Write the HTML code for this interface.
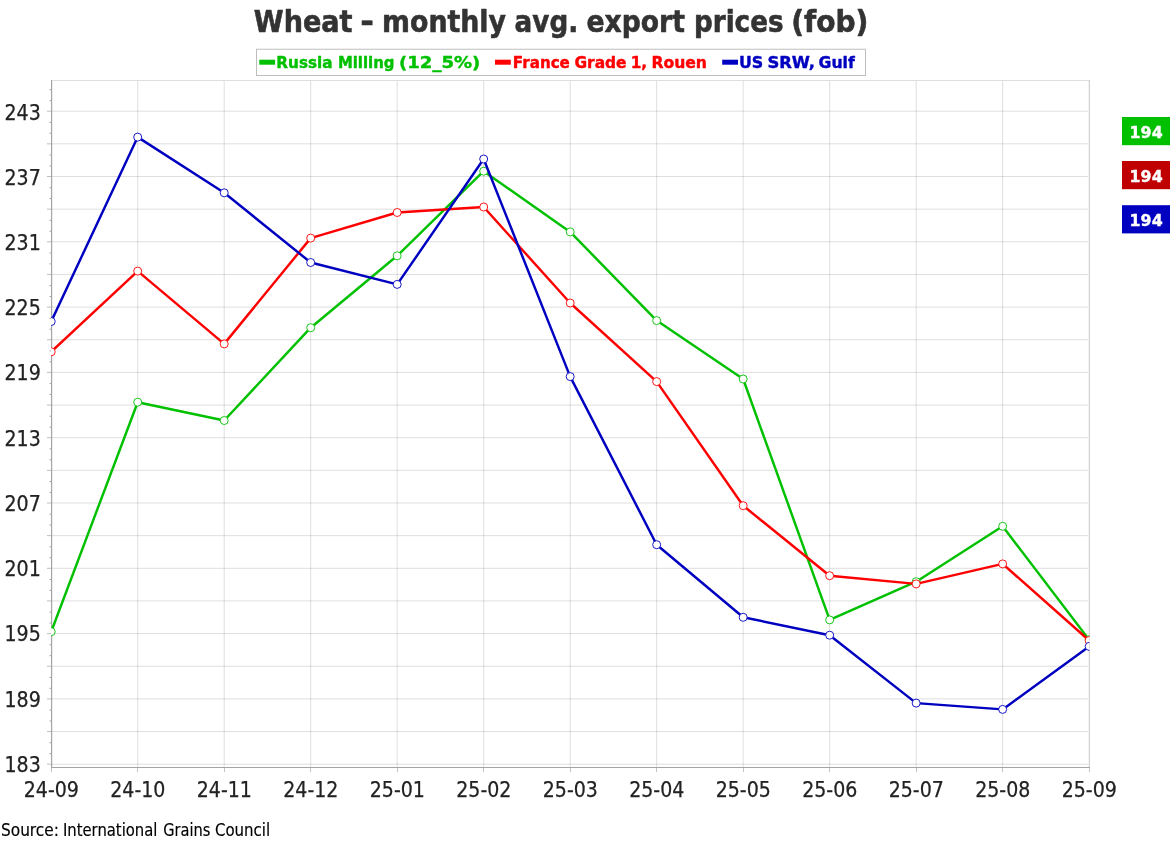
<!DOCTYPE html>
<html lang="en"><head><meta charset="utf-8"><title>Wheat - monthly avg. export prices (fob)</title>
<style>
html,body{margin:0;padding:0;background:#fff;}
body{width:1175px;height:845px;overflow:hidden;position:relative;}
svg{position:absolute;left:0;top:0;display:block;}
</style></head><body>
<svg width="1175" height="845" viewBox="0 0 1175 845">
<rect x="0" y="0" width="1175" height="845" fill="#fff"/>

<g stroke="#000" stroke-opacity="0.13" stroke-width="1"><line x1="51.50" y1="764.20" x2="1089.50" y2="764.20"/><line x1="51.50" y1="731.55" x2="1089.50" y2="731.55"/><line x1="51.50" y1="698.90" x2="1089.50" y2="698.90"/><line x1="51.50" y1="666.25" x2="1089.50" y2="666.25"/><line x1="51.50" y1="633.60" x2="1089.50" y2="633.60"/><line x1="51.50" y1="600.95" x2="1089.50" y2="600.95"/><line x1="51.50" y1="568.30" x2="1089.50" y2="568.30"/><line x1="51.50" y1="535.65" x2="1089.50" y2="535.65"/><line x1="51.50" y1="503.00" x2="1089.50" y2="503.00"/><line x1="51.50" y1="470.35" x2="1089.50" y2="470.35"/><line x1="51.50" y1="437.70" x2="1089.50" y2="437.70"/><line x1="51.50" y1="405.05" x2="1089.50" y2="405.05"/><line x1="51.50" y1="372.40" x2="1089.50" y2="372.40"/><line x1="51.50" y1="339.75" x2="1089.50" y2="339.75"/><line x1="51.50" y1="307.10" x2="1089.50" y2="307.10"/><line x1="51.50" y1="274.45" x2="1089.50" y2="274.45"/><line x1="51.50" y1="241.80" x2="1089.50" y2="241.80"/><line x1="51.50" y1="209.15" x2="1089.50" y2="209.15"/><line x1="51.50" y1="176.50" x2="1089.50" y2="176.50"/><line x1="51.50" y1="143.85" x2="1089.50" y2="143.85"/><line x1="51.50" y1="111.20" x2="1089.50" y2="111.20"/><line x1="137.70" y1="80.50" x2="137.70" y2="767.50"/><line x1="224.19" y1="80.50" x2="224.19" y2="767.50"/><line x1="310.69" y1="80.50" x2="310.69" y2="767.50"/><line x1="397.18" y1="80.50" x2="397.18" y2="767.50"/><line x1="483.68" y1="80.50" x2="483.68" y2="767.50"/><line x1="570.18" y1="80.50" x2="570.18" y2="767.50"/><line x1="656.67" y1="80.50" x2="656.67" y2="767.50"/><line x1="743.17" y1="80.50" x2="743.17" y2="767.50"/><line x1="829.66" y1="80.50" x2="829.66" y2="767.50"/><line x1="916.16" y1="80.50" x2="916.16" y2="767.50"/><line x1="1002.65" y1="80.50" x2="1002.65" y2="767.50"/></g>
<line x1="52.5" y1="80.5" x2="52.5" y2="767.5" stroke="#000" stroke-opacity="0.07" shape-rendering="crispEdges"/>
<g stroke-width="1" fill="none" shape-rendering="crispEdges"><line x1="51.5" y1="80.5" x2="1090.0" y2="80.5" stroke="#dedede"/><line x1="1089.5" y1="80.0" x2="1089.5" y2="767.5" stroke="#d2d2d2"/><line x1="1088.5" y1="81.0" x2="1088.5" y2="767.0" stroke="#f2f2f2"/></g>
<g stroke="#000" stroke-opacity="0.26" stroke-width="1"><line x1="47.0" y1="764.20" x2="51.0" y2="764.20"/><line x1="47.0" y1="731.55" x2="51.0" y2="731.55"/><line x1="47.0" y1="698.90" x2="51.0" y2="698.90"/><line x1="47.0" y1="666.25" x2="51.0" y2="666.25"/><line x1="47.0" y1="633.60" x2="51.0" y2="633.60"/><line x1="47.0" y1="600.95" x2="51.0" y2="600.95"/><line x1="47.0" y1="568.30" x2="51.0" y2="568.30"/><line x1="47.0" y1="535.65" x2="51.0" y2="535.65"/><line x1="47.0" y1="503.00" x2="51.0" y2="503.00"/><line x1="47.0" y1="470.35" x2="51.0" y2="470.35"/><line x1="47.0" y1="437.70" x2="51.0" y2="437.70"/><line x1="47.0" y1="405.05" x2="51.0" y2="405.05"/><line x1="47.0" y1="372.40" x2="51.0" y2="372.40"/><line x1="47.0" y1="339.75" x2="51.0" y2="339.75"/><line x1="47.0" y1="307.10" x2="51.0" y2="307.10"/><line x1="47.0" y1="274.45" x2="51.0" y2="274.45"/><line x1="47.0" y1="241.80" x2="51.0" y2="241.80"/><line x1="47.0" y1="209.15" x2="51.0" y2="209.15"/><line x1="47.0" y1="176.50" x2="51.0" y2="176.50"/><line x1="47.0" y1="143.85" x2="51.0" y2="143.85"/><line x1="47.0" y1="111.20" x2="51.0" y2="111.20"/></g>
<g stroke="#000" stroke-opacity="0.36" stroke-width="1"><line x1="49.5" y1="753.62" x2="51.0" y2="753.62"/><line x1="49.5" y1="742.73" x2="51.0" y2="742.73"/><line x1="49.5" y1="720.97" x2="51.0" y2="720.97"/><line x1="49.5" y1="710.08" x2="51.0" y2="710.08"/><line x1="49.5" y1="688.32" x2="51.0" y2="688.32"/><line x1="49.5" y1="677.43" x2="51.0" y2="677.43"/><line x1="49.5" y1="655.67" x2="51.0" y2="655.67"/><line x1="49.5" y1="644.78" x2="51.0" y2="644.78"/><line x1="49.5" y1="623.02" x2="51.0" y2="623.02"/><line x1="49.5" y1="612.13" x2="51.0" y2="612.13"/><line x1="49.5" y1="590.37" x2="51.0" y2="590.37"/><line x1="49.5" y1="579.48" x2="51.0" y2="579.48"/><line x1="49.5" y1="557.72" x2="51.0" y2="557.72"/><line x1="49.5" y1="546.83" x2="51.0" y2="546.83"/><line x1="49.5" y1="525.07" x2="51.0" y2="525.07"/><line x1="49.5" y1="514.18" x2="51.0" y2="514.18"/><line x1="49.5" y1="492.42" x2="51.0" y2="492.42"/><line x1="49.5" y1="481.53" x2="51.0" y2="481.53"/><line x1="49.5" y1="459.77" x2="51.0" y2="459.77"/><line x1="49.5" y1="448.88" x2="51.0" y2="448.88"/><line x1="49.5" y1="427.12" x2="51.0" y2="427.12"/><line x1="49.5" y1="416.23" x2="51.0" y2="416.23"/><line x1="49.5" y1="394.47" x2="51.0" y2="394.47"/><line x1="49.5" y1="383.58" x2="51.0" y2="383.58"/><line x1="49.5" y1="361.82" x2="51.0" y2="361.82"/><line x1="49.5" y1="350.93" x2="51.0" y2="350.93"/><line x1="49.5" y1="329.17" x2="51.0" y2="329.17"/><line x1="49.5" y1="318.28" x2="51.0" y2="318.28"/><line x1="49.5" y1="296.52" x2="51.0" y2="296.52"/><line x1="49.5" y1="285.63" x2="51.0" y2="285.63"/><line x1="49.5" y1="263.87" x2="51.0" y2="263.87"/><line x1="49.5" y1="252.98" x2="51.0" y2="252.98"/><line x1="49.5" y1="231.22" x2="51.0" y2="231.22"/><line x1="49.5" y1="220.33" x2="51.0" y2="220.33"/><line x1="49.5" y1="198.57" x2="51.0" y2="198.57"/><line x1="49.5" y1="187.68" x2="51.0" y2="187.68"/><line x1="49.5" y1="165.92" x2="51.0" y2="165.92"/><line x1="49.5" y1="155.03" x2="51.0" y2="155.03"/><line x1="49.5" y1="133.27" x2="51.0" y2="133.27"/><line x1="49.5" y1="122.38" x2="51.0" y2="122.38"/><line x1="49.5" y1="100.62" x2="51.0" y2="100.62"/><line x1="49.5" y1="89.73" x2="51.0" y2="89.73"/></g>
<g stroke="#a4a4a4" stroke-width="1" shape-rendering="crispEdges"><line x1="51.5" y1="80.0" x2="51.5" y2="768.0"/><line x1="51.0" y1="767.5" x2="1090.0" y2="767.5"/></g>
<g stroke="#c4c4c4" stroke-width="1" shape-rendering="crispEdges"><line x1="51.5" y1="768.0" x2="51.5" y2="772.0"/><line x1="137.5" y1="768.0" x2="137.5" y2="772.0"/><line x1="224.5" y1="768.0" x2="224.5" y2="772.0"/><line x1="310.5" y1="768.0" x2="310.5" y2="772.0"/><line x1="397.5" y1="768.0" x2="397.5" y2="772.0"/><line x1="483.5" y1="768.0" x2="483.5" y2="772.0"/><line x1="570.5" y1="768.0" x2="570.5" y2="772.0"/><line x1="656.5" y1="768.0" x2="656.5" y2="772.0"/><line x1="743.5" y1="768.0" x2="743.5" y2="772.0"/><line x1="829.5" y1="768.0" x2="829.5" y2="772.0"/><line x1="916.5" y1="768.0" x2="916.5" y2="772.0"/><line x1="1002.5" y1="768.0" x2="1002.5" y2="772.0"/><line x1="1089.5" y1="768.0" x2="1089.5" y2="772.0"/></g>
<text x="4.46" y="771.74" font-family="'DejaVu Sans Condensed','DejaVu Sans','Liberation Sans',sans-serif" font-size="22" fill="#222222" stroke="#222222" stroke-width="0.25" textLength="36.30" lengthAdjust="spacingAndGlyphs">183</text>
<text x="4.46" y="706.53" font-family="'DejaVu Sans Condensed','DejaVu Sans','Liberation Sans',sans-serif" font-size="22" fill="#222222" stroke="#222222" stroke-width="0.25" textLength="36.30" lengthAdjust="spacingAndGlyphs">189</text>
<text x="4.46" y="641.31" font-family="'DejaVu Sans Condensed','DejaVu Sans','Liberation Sans',sans-serif" font-size="22" fill="#222222" stroke="#222222" stroke-width="0.25" textLength="36.30" lengthAdjust="spacingAndGlyphs">195</text>
<text x="4.46" y="576.10" font-family="'DejaVu Sans Condensed','DejaVu Sans','Liberation Sans',sans-serif" font-size="22" fill="#222222" stroke="#222222" stroke-width="0.25" textLength="36.30" lengthAdjust="spacingAndGlyphs">201</text>
<text x="4.46" y="510.88" font-family="'DejaVu Sans Condensed','DejaVu Sans','Liberation Sans',sans-serif" font-size="22" fill="#222222" stroke="#222222" stroke-width="0.25" textLength="36.30" lengthAdjust="spacingAndGlyphs">207</text>
<text x="4.46" y="445.67" font-family="'DejaVu Sans Condensed','DejaVu Sans','Liberation Sans',sans-serif" font-size="22" fill="#222222" stroke="#222222" stroke-width="0.25" textLength="36.30" lengthAdjust="spacingAndGlyphs">213</text>
<text x="4.46" y="380.46" font-family="'DejaVu Sans Condensed','DejaVu Sans','Liberation Sans',sans-serif" font-size="22" fill="#222222" stroke="#222222" stroke-width="0.25" textLength="36.30" lengthAdjust="spacingAndGlyphs">219</text>
<text x="4.46" y="315.24" font-family="'DejaVu Sans Condensed','DejaVu Sans','Liberation Sans',sans-serif" font-size="22" fill="#222222" stroke="#222222" stroke-width="0.25" textLength="36.30" lengthAdjust="spacingAndGlyphs">225</text>
<text x="4.46" y="250.03" font-family="'DejaVu Sans Condensed','DejaVu Sans','Liberation Sans',sans-serif" font-size="22" fill="#222222" stroke="#222222" stroke-width="0.25" textLength="36.30" lengthAdjust="spacingAndGlyphs">231</text>
<text x="4.46" y="184.81" font-family="'DejaVu Sans Condensed','DejaVu Sans','Liberation Sans',sans-serif" font-size="22" fill="#222222" stroke="#222222" stroke-width="0.25" textLength="36.30" lengthAdjust="spacingAndGlyphs">237</text>
<text x="4.46" y="119.60" font-family="'DejaVu Sans Condensed','DejaVu Sans','Liberation Sans',sans-serif" font-size="22" fill="#222222" stroke="#222222" stroke-width="0.25" textLength="36.30" lengthAdjust="spacingAndGlyphs">243</text>
<text x="23.76" y="796.80" font-family="'DejaVu Sans Condensed','DejaVu Sans','Liberation Sans',sans-serif" font-size="22" fill="#222222" stroke="#222222" stroke-width="0.25" textLength="55.16" lengthAdjust="spacingAndGlyphs">24-09</text>
<text x="110.26" y="796.80" font-family="'DejaVu Sans Condensed','DejaVu Sans','Liberation Sans',sans-serif" font-size="22" fill="#222222" stroke="#222222" stroke-width="0.25" textLength="55.16" lengthAdjust="spacingAndGlyphs">24-10</text>
<text x="196.75" y="796.80" font-family="'DejaVu Sans Condensed','DejaVu Sans','Liberation Sans',sans-serif" font-size="22" fill="#222222" stroke="#222222" stroke-width="0.25" textLength="55.16" lengthAdjust="spacingAndGlyphs">24-11</text>
<text x="283.25" y="796.80" font-family="'DejaVu Sans Condensed','DejaVu Sans','Liberation Sans',sans-serif" font-size="22" fill="#222222" stroke="#222222" stroke-width="0.25" textLength="55.16" lengthAdjust="spacingAndGlyphs">24-12</text>
<text x="369.74" y="796.80" font-family="'DejaVu Sans Condensed','DejaVu Sans','Liberation Sans',sans-serif" font-size="22" fill="#222222" stroke="#222222" stroke-width="0.25" textLength="55.16" lengthAdjust="spacingAndGlyphs">25-01</text>
<text x="456.24" y="796.80" font-family="'DejaVu Sans Condensed','DejaVu Sans','Liberation Sans',sans-serif" font-size="22" fill="#222222" stroke="#222222" stroke-width="0.25" textLength="55.16" lengthAdjust="spacingAndGlyphs">25-02</text>
<text x="542.74" y="796.80" font-family="'DejaVu Sans Condensed','DejaVu Sans','Liberation Sans',sans-serif" font-size="22" fill="#222222" stroke="#222222" stroke-width="0.25" textLength="55.16" lengthAdjust="spacingAndGlyphs">25-03</text>
<text x="629.23" y="796.80" font-family="'DejaVu Sans Condensed','DejaVu Sans','Liberation Sans',sans-serif" font-size="22" fill="#222222" stroke="#222222" stroke-width="0.25" textLength="55.16" lengthAdjust="spacingAndGlyphs">25-04</text>
<text x="715.73" y="796.80" font-family="'DejaVu Sans Condensed','DejaVu Sans','Liberation Sans',sans-serif" font-size="22" fill="#222222" stroke="#222222" stroke-width="0.25" textLength="55.16" lengthAdjust="spacingAndGlyphs">25-05</text>
<text x="802.22" y="796.80" font-family="'DejaVu Sans Condensed','DejaVu Sans','Liberation Sans',sans-serif" font-size="22" fill="#222222" stroke="#222222" stroke-width="0.25" textLength="55.16" lengthAdjust="spacingAndGlyphs">25-06</text>
<text x="888.72" y="796.80" font-family="'DejaVu Sans Condensed','DejaVu Sans','Liberation Sans',sans-serif" font-size="22" fill="#222222" stroke="#222222" stroke-width="0.25" textLength="55.16" lengthAdjust="spacingAndGlyphs">25-07</text>
<text x="975.22" y="796.80" font-family="'DejaVu Sans Condensed','DejaVu Sans','Liberation Sans',sans-serif" font-size="22" fill="#222222" stroke="#222222" stroke-width="0.25" textLength="55.16" lengthAdjust="spacingAndGlyphs">25-08</text>
<text x="1061.71" y="796.80" font-family="'DejaVu Sans Condensed','DejaVu Sans','Liberation Sans',sans-serif" font-size="22" fill="#222222" stroke="#222222" stroke-width="0.25" textLength="55.16" lengthAdjust="spacingAndGlyphs">25-09</text>
<defs><clipPath id="plot"><rect x="51.0" y="80.5" width="1038.5" height="687.0"/></clipPath></defs>
<g clip-path="url(#plot)"><polyline points="51.20,631.70 137.70,402.20 224.19,420.50 310.69,327.70 397.18,255.80 483.68,171.20 570.18,231.90 656.67,320.60 743.17,379.00 829.66,619.90 916.16,581.70 1002.65,526.30 1089.15,639.80" fill="none" stroke="#00c000" stroke-width="2.45" stroke-linejoin="round"/><circle cx="51.20" cy="631.70" r="4" fill="#fff" stroke="#00c000" stroke-width="0.9"/><circle cx="137.70" cy="402.20" r="4" fill="#fff" stroke="#00c000" stroke-width="0.9"/><circle cx="224.19" cy="420.50" r="4" fill="#fff" stroke="#00c000" stroke-width="0.9"/><circle cx="310.69" cy="327.70" r="4" fill="#fff" stroke="#00c000" stroke-width="0.9"/><circle cx="397.18" cy="255.80" r="4" fill="#fff" stroke="#00c000" stroke-width="0.9"/><circle cx="483.68" cy="171.20" r="4" fill="#fff" stroke="#00c000" stroke-width="0.9"/><circle cx="570.18" cy="231.90" r="4" fill="#fff" stroke="#00c000" stroke-width="0.9"/><circle cx="656.67" cy="320.60" r="4" fill="#fff" stroke="#00c000" stroke-width="0.9"/><circle cx="743.17" cy="379.00" r="4" fill="#fff" stroke="#00c000" stroke-width="0.9"/><circle cx="829.66" cy="619.90" r="4" fill="#fff" stroke="#00c000" stroke-width="0.9"/><circle cx="916.16" cy="581.70" r="4" fill="#fff" stroke="#00c000" stroke-width="0.9"/><circle cx="1002.65" cy="526.30" r="4" fill="#fff" stroke="#00c000" stroke-width="0.9"/><circle cx="1089.15" cy="639.80" r="4" fill="#fff" stroke="#00c000" stroke-width="0.9"/></g>
<g clip-path="url(#plot)"><polyline points="51.20,351.80 137.70,271.10 224.19,343.90 310.69,238.10 397.18,212.50 483.68,207.00 570.18,303.00 656.67,381.60 743.17,505.70 829.66,575.70 916.16,583.90 1002.65,563.90 1089.15,640.50" fill="none" stroke="#ff0000" stroke-width="2.45" stroke-linejoin="round"/><circle cx="51.20" cy="351.80" r="4" fill="#fff" stroke="#ff0000" stroke-width="0.9"/><circle cx="137.70" cy="271.10" r="4" fill="#fff" stroke="#ff0000" stroke-width="0.9"/><circle cx="224.19" cy="343.90" r="4" fill="#fff" stroke="#ff0000" stroke-width="0.9"/><circle cx="310.69" cy="238.10" r="4" fill="#fff" stroke="#ff0000" stroke-width="0.9"/><circle cx="397.18" cy="212.50" r="4" fill="#fff" stroke="#ff0000" stroke-width="0.9"/><circle cx="483.68" cy="207.00" r="4" fill="#fff" stroke="#ff0000" stroke-width="0.9"/><circle cx="570.18" cy="303.00" r="4" fill="#fff" stroke="#ff0000" stroke-width="0.9"/><circle cx="656.67" cy="381.60" r="4" fill="#fff" stroke="#ff0000" stroke-width="0.9"/><circle cx="743.17" cy="505.70" r="4" fill="#fff" stroke="#ff0000" stroke-width="0.9"/><circle cx="829.66" cy="575.70" r="4" fill="#fff" stroke="#ff0000" stroke-width="0.9"/><circle cx="916.16" cy="583.90" r="4" fill="#fff" stroke="#ff0000" stroke-width="0.9"/><circle cx="1002.65" cy="563.90" r="4" fill="#fff" stroke="#ff0000" stroke-width="0.9"/><circle cx="1089.15" cy="640.50" r="4" fill="#fff" stroke="#ff0000" stroke-width="0.9"/></g>
<g clip-path="url(#plot)"><polyline points="51.20,321.50 137.70,137.10 224.19,192.80 310.69,262.50 397.18,284.40 483.68,159.00 570.18,376.60 656.67,544.70 743.17,617.30 829.66,635.20 916.16,703.10 1002.65,709.40 1089.15,646.40" fill="none" stroke="#0000c0" stroke-width="2.45" stroke-linejoin="round"/><circle cx="51.20" cy="321.50" r="4" fill="#fff" stroke="#0000c0" stroke-width="0.9"/><circle cx="137.70" cy="137.10" r="4" fill="#fff" stroke="#0000c0" stroke-width="0.9"/><circle cx="224.19" cy="192.80" r="4" fill="#fff" stroke="#0000c0" stroke-width="0.9"/><circle cx="310.69" cy="262.50" r="4" fill="#fff" stroke="#0000c0" stroke-width="0.9"/><circle cx="397.18" cy="284.40" r="4" fill="#fff" stroke="#0000c0" stroke-width="0.9"/><circle cx="483.68" cy="159.00" r="4" fill="#fff" stroke="#0000c0" stroke-width="0.9"/><circle cx="570.18" cy="376.60" r="4" fill="#fff" stroke="#0000c0" stroke-width="0.9"/><circle cx="656.67" cy="544.70" r="4" fill="#fff" stroke="#0000c0" stroke-width="0.9"/><circle cx="743.17" cy="617.30" r="4" fill="#fff" stroke="#0000c0" stroke-width="0.9"/><circle cx="829.66" cy="635.20" r="4" fill="#fff" stroke="#0000c0" stroke-width="0.9"/><circle cx="916.16" cy="703.10" r="4" fill="#fff" stroke="#0000c0" stroke-width="0.9"/><circle cx="1002.65" cy="709.40" r="4" fill="#fff" stroke="#0000c0" stroke-width="0.9"/><circle cx="1089.15" cy="646.40" r="4" fill="#fff" stroke="#0000c0" stroke-width="0.9"/></g>
<rect x="256.5" y="49.25" width="609" height="26.25" fill="#fff" stroke="#bebebe" stroke-width="1"/>
<rect x="259.3" y="59.7" width="15.8" height="5" fill="#00c000"/>
<rect x="495.0" y="59.7" width="15.8" height="5" fill="#ff0000"/>
<rect x="722.2" y="59.7" width="15.8" height="5" fill="#0000c0"/>
<text y="31.80" font-family="'DejaVu Sans','Liberation Sans',sans-serif" font-size="29.8" font-weight="bold" fill="#333333" stroke="#333333" stroke-width="0.6" stroke-linejoin="round"><tspan x="253.81" textLength="98.68" lengthAdjust="spacingAndGlyphs">Wheat</tspan> <tspan x="360.20" textLength="13.69" lengthAdjust="spacingAndGlyphs">-</tspan> <tspan x="382.05" textLength="123.98" lengthAdjust="spacingAndGlyphs">monthly</tspan> <tspan x="514.60" textLength="63.60" lengthAdjust="spacingAndGlyphs">avg.</tspan> <tspan x="586.48" textLength="98.42" lengthAdjust="spacingAndGlyphs">export</tspan> <tspan x="694.00" textLength="89.48" lengthAdjust="spacingAndGlyphs">prices</tspan> <tspan x="791.13" textLength="77.25" lengthAdjust="spacingAndGlyphs">(fob)</tspan></text>
<text y="67.80" font-family="'DejaVu Sans','Liberation Sans',sans-serif" font-size="15.6" font-weight="bold" fill="#00c000" stroke="#00c000" stroke-width="0.4" stroke-linejoin="round"><tspan x="276.36" textLength="56.10" lengthAdjust="spacingAndGlyphs">Russia</tspan> <tspan x="337.89" textLength="56.57" lengthAdjust="spacingAndGlyphs">Milling</tspan> <tspan x="399.11" textLength="81.08" lengthAdjust="spacingAndGlyphs">(12_5%)</tspan></text>
<text y="67.80" font-family="'DejaVu Sans','Liberation Sans',sans-serif" font-size="15.6" font-weight="bold" fill="#ff0000" stroke="#ff0000" stroke-width="0.4" stroke-linejoin="round"><tspan x="512.87" textLength="57.02" lengthAdjust="spacingAndGlyphs">France</tspan> <tspan x="574.46" textLength="52.10" lengthAdjust="spacingAndGlyphs">Grade</tspan> <tspan x="630.67" textLength="16.56" lengthAdjust="spacingAndGlyphs">1,</tspan> <tspan x="651.42" textLength="55.55" lengthAdjust="spacingAndGlyphs">Rouen</tspan></text>
<text y="67.80" font-family="'DejaVu Sans','Liberation Sans',sans-serif" font-size="15.6" font-weight="bold" fill="#0000c0" stroke="#0000c0" stroke-width="0.4" stroke-linejoin="round"><tspan x="739.00" textLength="24.27" lengthAdjust="spacingAndGlyphs">US</tspan> <tspan x="767.42" textLength="47.48" lengthAdjust="spacingAndGlyphs">SRW,</tspan> <tspan x="818.55" textLength="36.17" lengthAdjust="spacingAndGlyphs">Gulf</tspan></text>
<text y="836.00" font-family="'DejaVu Sans Condensed','DejaVu Sans','Liberation Sans',sans-serif" font-size="17" fill="#000000" stroke="#000000" stroke-width="0.15" stroke-linejoin="round"><tspan x="0.97" textLength="57.94" lengthAdjust="spacingAndGlyphs">Source:</tspan> <tspan x="62.92" textLength="94.51" lengthAdjust="spacingAndGlyphs">International</tspan> <tspan x="163.24" textLength="47.15" lengthAdjust="spacingAndGlyphs">Grains</tspan> <tspan x="214.92" textLength="55.24" lengthAdjust="spacingAndGlyphs">Council</tspan></text>
<rect x="1122" y="117.0" width="48" height="28.2" fill="#00c000"/>
<text x="1129.61" y="137.75" font-family="'DejaVu Sans','Liberation Sans',sans-serif" font-size="15.5" font-weight="bold" fill="#ffffff" textLength="33.03" lengthAdjust="spacingAndGlyphs" stroke="#ffffff" stroke-width="0.4" stroke-linejoin="round">194</text>
<rect x="1122" y="161.0" width="48" height="28.2" fill="#c00000"/>
<text x="1129.61" y="181.75" font-family="'DejaVu Sans','Liberation Sans',sans-serif" font-size="15.5" font-weight="bold" fill="#ffffff" textLength="33.03" lengthAdjust="spacingAndGlyphs" stroke="#ffffff" stroke-width="0.4" stroke-linejoin="round">194</text>
<rect x="1122" y="205.2" width="48" height="28.2" fill="#0000c0"/>
<text x="1129.61" y="225.95" font-family="'DejaVu Sans','Liberation Sans',sans-serif" font-size="15.5" font-weight="bold" fill="#ffffff" textLength="33.03" lengthAdjust="spacingAndGlyphs" stroke="#ffffff" stroke-width="0.4" stroke-linejoin="round">194</text>
</svg></body></html>
